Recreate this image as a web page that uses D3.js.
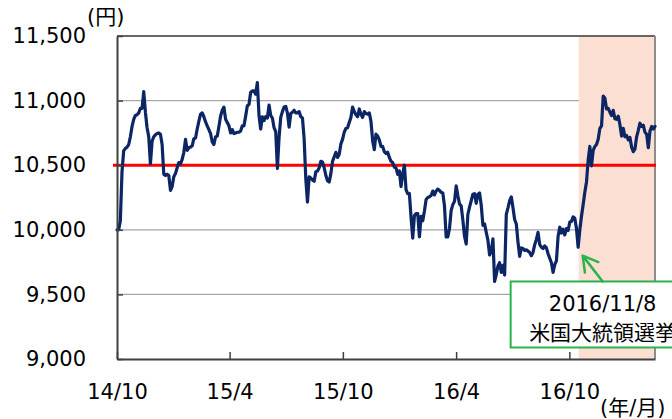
<!DOCTYPE html>
<html>
<head>
<meta charset="utf-8">
<script src="https://cdn.jsdelivr.net/npm/d3@7"></script>
<style>
  body { margin: 0; background: #fff; }
  svg { display: block; }
  text { font-family: "DejaVu Sans", "Noto Sans CJK JP", sans-serif; fill: #000; }
</style>
</head>
<body>
<svg id="chart"></svg>
<script>
// 基準価額 (one value every 2.7 days)
const navValues = [
  10000, 10000, 10070, 10450, 10610, 10630, 10640, 10660, 10720, 10800,
  10855, 10885, 10890, 10905, 10940, 10940, 11070, 10910, 10790, 10720,
  10510, 10685, 10720, 10735, 10745, 10750, 10740, 10660, 10430, 10420,
  10430, 10420, 10305, 10335, 10410, 10435, 10480, 10520, 10510, 10545,
  10600, 10700, 10615, 10635, 10640, 10650, 10705, 10710, 10780, 10840,
  10895, 10905, 10875, 10835, 10805, 10775, 10745, 10680, 10660, 10720,
  10725, 10800, 10880, 10925, 10950, 10855, 10830, 10805, 10750, 10775,
  10745, 10750, 10755, 10755, 10765, 10805, 10805, 10880, 10960, 10970,
  11065, 11075, 11075, 11050, 11140, 10885, 10780, 10875, 10845, 10875,
  10865, 10965, 10885, 10865, 10790, 10760, 10475, 10715, 10870, 10915,
  10950, 10955, 10905, 10795, 10900, 10910, 10925,
  10905, 10905, 10915,
  10875, 10865, 10705, 10395, 10215, 10410, 10400, 10385, 10375, 10450,
  10455, 10480, 10530, 10525, 10480, 10420, 10380, 10370, 10435, 10530,
  10565, 10600, 10560, 10585, 10665, 10700, 10755, 10785, 10790, 10830,
  10870, 10950, 10915, 10890, 10875, 10935, 10895, 10870, 10915, 10900,
  10895, 10905, 10840, 10690, 10620, 10740, 10725, 10695, 10645, 10645,
  10605, 10590, 10600, 10560, 10530, 10520, 10485, 10480, 10430, 10455,
  10335, 10435, 10500, 10310, 10280, 10280, 10095, 9935, 10110, 10125,
  10125, 9945, 10105, 10070, 10145, 10235, 10250, 10255, 10265, 10300,
  10270, 10300, 10315, 10305, 10290, 10285, 10185, 9945, 9945, 10010,
  10150, 10195, 10220, 10340, 10265, 10200, 10185, 10075, 9950, 9890,
  10120, 10175, 10225, 10275, 10280,
  10205, 10275, 10285, 10190, 10035,
  10045, 9980, 9920, 9805, 9835, 9930, 9600, 9655, 9720, 9745,
  9670, 9725, 9650, 10120, 10170, 10225, 10255, 10170, 10080, 10045,
  9905, 9795, 9860, 9855, 9840, 9845, 9835, 9825, 9800, 9825,
  9885, 9925, 9980, 9885, 9865, 9855, 9875, 9860, 9815, 9780,
  9745, 9670, 9730, 9760, 9950, 10020, 9975, 10005, 9960, 10010,
  9995, 10060, 10065, 10100, 10090, 10010, 9865, 10000, 10105, 10195,
  10290, 10370, 10540, 10645, 10495, 10615, 10645, 10660, 10700, 10785,
  10805, 11035, 11020, 10935, 10940, 10910, 10885, 10925, 10860, 10855,
  10880, 10815, 10725, 10785, 10720, 10730, 10695, 10715, 10640, 10605,
  10625, 10720, 10770, 10825, 10800, 10810, 10755, 10740, 10635, 10765,
  10800, 10780, 10800
];
const startDate = new Date(2014, 9, 24);
const stepDays = 2.7;

const xTickDates = [
  new Date(2014, 9, 24), new Date(2015, 3, 24), new Date(2015, 9, 24),
  new Date(2016, 3, 24), new Date(2016, 9, 24)
];
const yTicks = [9000, 9500, 10000, 10500, 11000, 11500];
const gridValues = [9500, 10000, 11000];
const baseValue = 10500;
const eventDate = new Date(2016, 10, 8);
const eventLabel = ['2016/11/8', '米国大統領選挙'];
const arrowValue = 9800;
const yUnit = '(円)';
const xUnit = '(年/月)';

const svgWidth = 672;
const svgHeight = 419;
const margin = {top: 36, right: 17, bottom: 60, left: 117};
const width = svgWidth - margin.left - margin.right;
const height = svgHeight - margin.top - margin.bottom;

const data = navValues.map((v, i) => ({
  date: new Date(+startDate + i * stepDays * 864e5),
  value: v
}));

const svg = d3.select('#chart')
  .attr('width', svgWidth)
  .attr('height', svgHeight);
const g = svg.append('g')
  .attr('transform', `translate(${margin.left}, ${margin.top})`);

const x = d3.scaleTime()
  .domain(d3.extent(data, d => d.date))
  .range([0, width]);
const y = d3.scaleLinear()
  .domain([9000, 11500])
  .range([height, 0]);

// grid
g.selectAll('.grid')
  .data(gridValues)
  .enter().append('line')
  .attr('x1', 0).attr('x2', width)
  .attr('y1', d => y(d)).attr('y2', d => y(d))
  .attr('stroke', '#a6a6a6')
  .attr('stroke-width', 1.3);

// shaded period after the election
g.append('rect')
  .attr('x', x(eventDate))
  .attr('y', 0)
  .attr('width', width - x(eventDate))
  .attr('height', height)
  .attr('fill', '#fbdfd2');

// frame top / right
g.append('line')
  .attr('x1', 0).attr('x2', width)
  .attr('y1', 0).attr('y2', 0)
  .attr('stroke', '#666')
  .attr('stroke-width', 2);
g.append('line')
  .attr('x1', width).attr('x2', width)
  .attr('y1', 0).attr('y2', height)
  .attr('stroke', '#8c8c8c')
  .attr('stroke-width', 2);

// 10,500 line
g.append('line')
  .attr('x1', -4).attr('x2', width + 1)
  .attr('y1', y(baseValue)).attr('y2', y(baseValue))
  .attr('stroke', '#ff0000')
  .attr('stroke-width', 3);

const line = d3.line()
  .x(d => x(d.date))
  .y(d => y(d.value));

g.append('path')
  .datum(data)
  .attr('fill', 'none')
  .attr('stroke', '#0b2565')
  .attr('stroke-width', 3.2)
  .attr('stroke-linejoin', 'round')
  .attr('stroke-linecap', 'round')
  .attr('d', line);

// axes
const yAxis = g.append('g')
  .call(d3.axisLeft(y)
    .tickValues(yTicks)
    .tickSize(-6)
    .tickSizeOuter(0)
    .tickPadding(31)
    .tickFormat(d3.format(',')));
const xAxis = g.append('g')
  .attr('transform', `translate(0, ${height})`)
  .call(d3.axisBottom(x)
    .tickValues(xTickDates)
    .tickSize(-7)
    .tickSizeOuter(0)
    .tickPadding(25)
    .tickFormat(d3.timeFormat('%y/%-m')));

[yAxis, xAxis].forEach(ax => {
  ax.select('.domain').attr('stroke', '#404040').attr('stroke-width', 2);
  ax.selectAll('.tick line').attr('stroke', '#404040').attr('stroke-width', 1.5);
  ax.selectAll('.tick text')
    .attr('font-size', 21)
    .attr('font-family', '"DejaVu Sans", sans-serif')
    .attr('fill', '#000');
});

// units
svg.append('text')
  .attr('x', 87).attr('y', 24)
  .attr('font-size', 21)
  .text(yUnit);
svg.append('text')
  .attr('x', 600).attr('y', 415)
  .attr('font-size', 21)
  .text(xUnit);

// annotation
const ex = x(eventDate);
const boxCx = ex + 24;
const boxTop = y(9600);
const box = g.append('g');
box.append('rect')
  .attr('x', boxCx - 92)
  .attr('y', boxTop)
  .attr('width', 184)
  .attr('height', 66)
  .attr('fill', '#fff')
  .attr('stroke', '#2bb24c')
  .attr('stroke-width', 2);
box.selectAll('text')
  .data(eventLabel)
  .enter().append('text')
  .attr('x', boxCx)
  .attr('y', (d, i) => boxTop + 30 + i * 29)
  .attr('text-anchor', 'middle')
  .attr('font-size', 21)
  .text(d => d);

const tip = [ex + 4, y(arrowValue)];
const tail = [boxCx, boxTop];
const ang = Math.atan2(tail[1] - tip[1], tail[0] - tip[0]);
const wing = a => [tip[0] + 17 * Math.cos(ang + a), tip[1] + 17 * Math.sin(ang + a)];
g.append('path')
  .attr('d', `M${tail}L${tip}M${wing(Math.PI / 6)}L${tip}L${wing(-Math.PI / 6)}`)
  .attr('fill', 'none')
  .attr('stroke', '#2bb24c')
  .attr('stroke-width', 2.5)
  .attr('stroke-linecap', 'round')
  .attr('stroke-linejoin', 'round');
</script>
</body>
</html>
